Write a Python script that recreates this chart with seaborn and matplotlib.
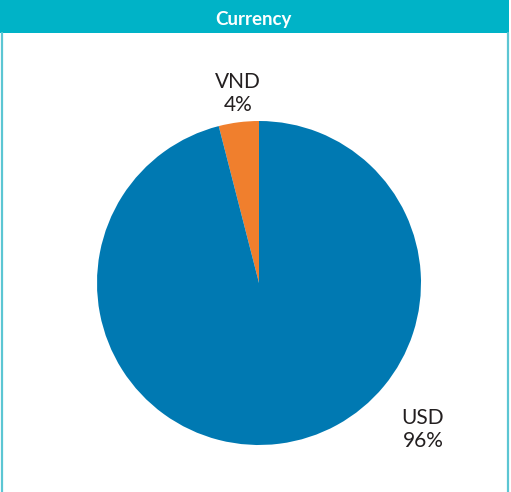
import matplotlib
matplotlib.use("Agg")
import matplotlib.pyplot as plt
import seaborn as sns
from matplotlib.patches import Rectangle
from matplotlib.lines import Line2D

sns.set_theme(style="white")
plt.rcParams['font.family'] = ['Lato', 'DejaVu Sans']

title = "Currency"
categories = ["VND", "USD"]
shares = [4, 96]
colors = ["#F07F2D", "#0079B2"]
# label anchor positions (in pie-radius units)
label_pos = [(-0.13, 1.17), (1.012, -0.905)]

W, H = 511, 492
fig = plt.figure(figsize=(W / 100, H / 100), dpi=100)
fig.patch.set_facecolor("white")

# header bar
fig.patches.append(Rectangle((0, 1 - 33 / H), 509 / W, 33 / H, transform=fig.transFigure,
                             facecolor="#00B3C7", edgecolor="none", zorder=0))
fig.text(253 / W, 1 - 20 / H, title, ha="center", va="center", color="white",
         fontsize=13.5, fontweight="bold")
# side borders
for x in (1.5, 507.5):
    fig.add_artist(Line2D([x / W, x / W], [0, 1 - 33 / H], transform=fig.transFigure,
                          color="#5CC6D3", linewidth=1.6))

R = 162
cx, cy = 259, 283
half = 1.5 * R
ax = fig.add_axes([(cx - half) / W, (H - cy - half) / H, 2 * half / W, 2 * half / H])
ax.pie(shares, colors=colors, startangle=90, counterclock=True,
       wedgeprops=dict(linewidth=0))
ax.set_xlim(-1.5, 1.5)
ax.set_ylim(-1.5, 1.5)
ax.axis("off")

for cat, val, (lx, ly) in zip(categories, shares, label_pos):
    ax.text(lx, ly, f"{cat}\n{val}%", ha="center", va="center", fontsize=15,
            color="#231F20", linespacing=1.2)

fig.savefig("out.png", dpi=100)
